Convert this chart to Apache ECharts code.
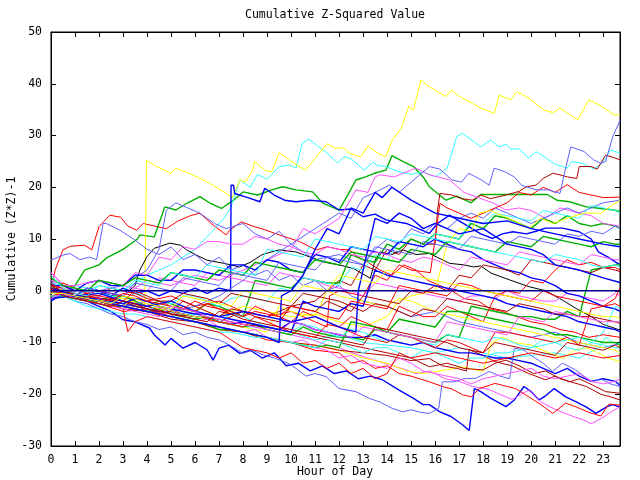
<!DOCTYPE html>
<html><head><meta charset="utf-8">
<script src="https://cdn.jsdelivr.net/npm/echarts@6/dist/echarts.min.js"></script>
<style>html,body{margin:0;padding:0;background:#fff}#c{width:640px;height:480px}</style>
</head><body><div id="c"></div>
<script>
const titleText = 'Cumulative Z-Squared Value';
const xName = 'Hour of Day';
const yName = 'Cumulative (Z*Z)-1';
const xMin = 0, xMax = 23.7, yMin = -30, yMax = 50;

// half-hour sample times used by the gridded series below
const H = [0,0.5,1,1.5, 2,2.5,3,3.5, 4,4.5,5,5.5, 6,6.5,7,7.5, 8,8.5,9,9.5, 10,10.5,11,11.5, 12,12.5,13,13.5, 14,14.5,15,15.5, 16,16.5,17,17.5, 18,18.5,19,19.5, 20,20.5,21,21.5, 22,22.5,23,23.5, 23.7];

// series given as [hour, cumulative value]
const yellowTop = [[0,0],[1,-1],[2,-1.5],[3,-2.5],[3.9,-3],[3.98,25.2],[4.4,24],[5,22.7],[5.2,23.7],[5.9,22.4],[6.6,20.8],[7.2,19.1],[7.55,18],[7.86,21.4],[8.1,21],[8.4,23.3],[8.48,25],[8.9,23.3],[9.2,23],[9.5,26.7],[10,25],[10.6,23.3],[11.5,28.4],[11.8,27.6],[12.2,27.6],[12.4,26.6],[12.9,25.9],[13.2,28],[13.6,26.6],[13.95,25.9],[14.2,29],[14.6,31.5],[14.9,35.6],[15.1,35],[15.4,40.7],[15.76,39.4],[16.45,37.5],[16.66,38.8],[17,37.6],[17.9,35.3],[18.46,34.3],[18.67,37.8],[19.15,36.9],[19.4,38.5],[19.9,37.2],[20.54,34.9],[20.9,34.4],[21.2,35.3],[21.93,33],[22.4,36.9],[22.83,35.9],[23.45,34],[23.7,34]];
const cyanTop = [[0,0.5],[1,-1],[2,1],[3,0],[4,3],[5,5],[6,8],[6.7,11.4],[7.2,14],[7.5,16.2],[7.86,21.4],[8.3,20],[8.6,22.5],[9,21.5],[9.5,24],[9.94,24.3],[10.2,23.7],[10.47,28.5],[10.73,29.3],[11.05,28.2],[11.5,26.6],[11.94,24.7],[12.22,25.9],[12.5,25.5],[13.05,23.3],[13.4,24.8],[13.6,24.2],[13.95,24],[14.5,23],[15,22.5],[15.5,23],[16,22],[16.5,23.7],[16.9,29.8],[17.14,30.4],[17.9,27.8],[18.3,29.1],[18.67,27.8],[18.95,28.3],[19.15,27.4],[19.5,27.4],[19.9,25.6],[20.2,26.9],[20.54,25.9],[20.96,24.5],[21.5,23.7],[21.7,25],[22.2,24.5],[22.6,23.5],[22.95,24.6],[23.3,27.2],[23.7,26.6]];
const lightBlueTop = [[0,-1],[1,-1],[2,-2],[3,-3],[4,-2],[5,-4],[6,-3],[7,-1],[8,2],[9,6],[10,9],[11,12],[12,15],[12.5,14],[13,18],[13.4,18.8],[14.1,20.4],[14.5,19],[15,21],[15.76,24],[16.2,23.5],[16.7,21.4],[17.1,21],[17.4,22.7],[17.9,21.5],[18.25,20.4],[18.46,23.7],[18.9,23],[19.3,22],[19.6,20.4],[20.2,19.5],[20.7,19.5],[21.2,18.8],[21.45,24],[21.65,27.8],[22.2,26.9],[22.6,25.3],[22.9,24.6],[23.1,25],[23.4,29.8],[23.7,32.9]];
const darkRedTop = [[0,1],[1,-1],[2,-2],[3,-1],[4,-3],[5,-4],[6,-5],[7,-6],[8,-4],[9,-5],[10,-3],[11,-2],[12,2],[12.5,1],[13,5],[13.5,4],[14,8],[14.5,7],[15,10],[15.5,9],[16,9],[16.1,15.6],[16.2,18.8],[16.7,18.5],[17.1,17.8],[17.55,17.5],[17.9,18.5],[18.3,17.8],[18.95,18.5],[19.5,19.2],[19.8,20.1],[20.2,20.4],[20.5,21.7],[20.9,22.7],[21.2,22.4],[21.5,22],[21.9,21.7],[22,24],[22.5,24],[22.75,23.5],[23.1,26.2],[23.4,25.8],[23.7,25.3]];
const greenTop = [[0,0],[0.5,-1],[1,1],[1.4,4],[2,5],[2.3,6.3],[3,8],[3.6,10],[3.7,10.8],[4.3,10.4],[4.74,16.2],[5.2,15.6],[5.7,17],[6.2,18.2],[6.6,17],[7.1,15.9],[7.6,17.5],[8,19.1],[8.6,18.5],[9.2,19.5],[9.65,20.1],[10.2,19.5],[10.9,19.1],[11.3,17],[12,15.6],[12.3,18],[12.7,21.4],[13.1,22],[13.47,22.7],[13.95,23.3],[14.2,26.1],[14.65,25],[15.1,24],[15.5,22],[15.76,20.1],[16.45,17.5],[16.9,18.3],[17.5,17],[17.9,18.6],[20.67,18.6],[21.07,17.5],[21.6,17.2],[22.3,16.2],[22.9,15.9],[23.45,15.6],[23.7,15.3]];
const redEarly = [[0,0],[0.17,4],[0.5,7.9],[0.8,8.6],[1.4,8.8],[1.7,7.9],[2,12.4],[2.45,14.6],[2.9,14.2],[3.2,12.5],[3.56,11.7],[3.84,13],[4.3,12.5],[4.8,12],[5.3,13.5],[5.8,14.5],[6.2,15],[6.75,12.7],[7.3,10.8],[7.44,11.7],[7.93,13.3],[8.4,12.5],[8.9,11.8],[9.5,10.8],[10.35,9.5],[11.05,7.9],[11.5,8.5],[12,8],[12.43,7.9],[12.8,6.5],[13.2,5.5],[13.7,4],[14.2,3],[14.7,5],[15.2,4],[15.7,2],[16.2,1],[16.7,0],[17.2,-1.5],[17.8,-2],[18.3,-3.5],[18.8,-4],[19.4,-5],[20,-6],[20.6,-6.5],[21.2,-7.5],[21.8,-8],[22.4,-9],[23,-8.5],[23.7,-9]];
const lightBlueHigh = [[0,5.9],[0.5,6.9],[0.8,7.2],[1.2,6],[1.6,6.5],[1.9,6],[2.17,13],[2.3,13],[2.87,11.7],[3.5,9.8],[4,8],[4.5,7],[5,8.5],[5.5,6],[6,7],[6.5,5],[7,6.5],[7.5,4],[8,5],[8.5,3],[9,4],[9.5,2],[10,3],[10.5,1],[11,2],[11.5,0],[12,1],[12.5,-1],[13,-2],[14,-3],[15,-5],[16,-4],[17,-6],[18,-7],[19,-8],[20,-9],[21,-8],[22,-10],[23,-11],[23.7,-10.2]];
const lightBlueMid = [[0,1.5],[1,-1],[2,0],[3,1],[4,4],[4.5,8],[4.8,15.5],[5.2,17],[5.7,16],[6.2,15],[6.8,13],[7.3,12],[8,13],[8.5,11],[9,10],[9.5,11.5],[10,9],[11,6],[12,7],[13,5],[13.5,8],[14,10],[14.5,9],[15,12],[15.5,11],[16,13],[16.5,12],[17,14],[17.5,15],[18,14],[18.5,16],[19,15],[19.5,14],[20,13],[20.5,14],[21,15],[21.5,16],[22,15],[22.5,16],[23,17],[23.7,17.5]];
const blueLow = [[0,-0.5],[0.5,-0.5],[1,-1.5],[1.5,-2],[2,-3],[2.5,-4],[3,-5.6],[3.5,-6],[4.1,-7.2],[4.3,-8.5],[4.75,-10.5],[5,-9.2],[5.5,-11.1],[6,-10],[6.5,-11.4],[6.75,-13.4],[7,-11.1],[7.4,-10.5],[7.86,-12.1],[8.3,-11.5],[8.8,-13],[9.3,-12],[9.8,-14.5],[10.3,-14],[10.8,-15.5],[11.3,-14.5],[11.8,-16],[12.3,-15.5],[12.8,-17],[13.3,-16.5],[13.8,-17.2],[14.5,-19.2],[15.1,-20.8],[15.5,-22],[15.76,-22],[16.2,-23.4],[16.66,-24.3],[17.14,-25.9],[17.42,-27],[17.63,-18.9],[17.9,-19.5],[18.33,-20.8],[18.95,-22.4],[19.3,-21.1],[19.7,-18.5],[20,-19.5],[20.33,-21.1],[20.6,-20.3],[20.96,-18.9],[21.44,-20.5],[21.9,-21.5],[22.3,-22.5],[22.7,-23.7],[23.16,-22.4],[23.4,-22],[23.7,-22.5]];
const lightBlueLow = [[0,0],[0.5,-1],[1,-2],[1.5,-2.5],[2,-3.5],[2.5,-4.5],[3,-5],[3.5,-6],[4,-6.5],[4.5,-7.5],[5,-7],[5.5,-8.5],[6,-8],[6.5,-9],[7,-9.5],[7.44,-10.5],[8,-12.1],[8.4,-11.5],[8.84,-12.4],[9.3,-13],[9.87,-14],[10.2,-15],[10.63,-16.5],[11,-16],[11.46,-16.6],[12,-18.9],[12.7,-19.5],[13.26,-20.8],[13.7,-21.5],[14.2,-22.7],[14.65,-23.4],[15,-23],[15.4,-23.5],[15.76,-23.7],[16.15,-22.7],[16.3,-17.6],[16.8,-17.6],[17.2,-17],[17.7,-16.9],[18.25,-15.6],[18.7,-16.5],[19.1,-17],[19.3,-11.1],[19.7,-11.5],[20,-12.5],[20.5,-14],[20.9,-15.6],[21.3,-14],[21.85,-15.3],[22.2,-16.5],[22.55,-17.6],[22.9,-17],[23.3,-18],[23.7,-18.5]];
const magentaLow = [[0,1],[1,-1.5],[2,-2],[3,-3],[4,-2.5],[5,-4],[6,-5],[7,-6],[8,-6.5],[9,-7.5],[10,-8.5],[10.9,-9.5],[11.5,-10.5],[12,-11],[12.6,-12.1],[13.2,-13],[14.1,-14.3],[14.6,-15],[15.2,-16],[15.8,-15.5],[16.4,-17],[17,-17.5],[17.55,-18.5],[18.2,-19],[18.74,-20.1],[19.2,-21],[19.9,-19.2],[20.4,-21.5],[21.03,-23],[21.7,-24.2],[22.2,-25],[22.5,-25.7],[22.95,-24.6],[23.3,-23.5],[23.7,-22.4]];
const redLow = [[0,0.5],[1,-1],[2,-2.5],[3,-4],[4,-3.5],[5,-5],[6,-6],[7,-7],[8,-8],[9,-9.5],[10,-10],[11,-11.5],[12,-12],[12.5,-14],[13,-13.5],[13.5,-15],[14,-14.5],[14.5,-16],[15,-16.5],[15.76,-17.6],[16.3,-18.5],[16.7,-19],[17.14,-20.1],[17.5,-20.5],[17.84,-18.9],[18.5,-17.9],[19,-18.5],[19.35,-18.9],[19.9,-20.5],[20.4,-22],[20.9,-23.7],[21.44,-21.7],[21.9,-22.5],[22.4,-23.5],[22.9,-24.2],[23.24,-21.9],[23.7,-22.1]];
const darkRedLowA = [[0,-1],[1,-1],[2,-2],[3,-3.5],[4,-4],[5,-5.5],[6,-6],[7,-7.5],[8,-8],[9,-9],[10,-10],[11,-10.5],[12,-11.5],[13,-12],[14,-12.5],[15,-13.5],[15.76,-13.1],[16.3,-14.5],[16.9,-15],[17.3,-15.5],[17.42,-11.4],[18,-12.5],[18.5,-13.7],[19.2,-14.5],[19.9,-16],[20.6,-17.2],[21,-16.5],[21.6,-17.6],[22,-17],[22.55,-18.2],[23.1,-19.5],[23.7,-19.8]];
const darkRedLowB = [[0,0],[1,-0.5],[2,-1.5],[3,-2],[4,-3],[5,-4.5],[6,-5],[7,-5.5],[8,-6.5],[9,-7],[10,-8],[11,-9],[12,-10],[13,-11],[14,-12],[15,-13],[15.76,-14.7],[16.5,-14],[17.2,-15],[18,-15.3],[18.5,-14],[18.95,-13.4],[19.5,-14.5],[20.1,-16],[20.6,-15.5],[21.2,-17],[21.8,-17.8],[22.3,-18.5],[22.9,-20],[23.3,-20.5],[23.7,-21.1]];
const yellowLow = [[0,-1.5],[1,-1],[2,-2],[3,-3],[4,-4],[5,-5],[6,-6],[7,-7.5],[8,-8],[9,-9],[10,-10],[11,-10.5],[12,-11.5],[13,-13],[14,-14],[14.8,-15.5],[15.5,-16],[16.2,-15.5],[16.8,-15],[17.14,-14.7],[18,-15.6],[18.33,-10.2],[18.8,-9],[19.3,-10],[20,-10.5],[20.5,-11.5],[21.3,-13.1],[21.8,-11.5],[22.3,-11],[22.83,-12.1],[23.2,-13],[23.7,-13.7]];
const cyanLow = [[0,-1],[1,-1],[1.5,-2],[2,-1.5],[3,-3],[4,-4],[5,-5],[6,-4.5],[7,-6],[8,-7],[9,-7],[10,-8],[11,-9.5],[12,-8.5],[13,-10],[14,-10.5],[15,-11],[16,-12],[17,-11],[18,-12],[19,-13],[20,-12.5],[21,-12],[22,-13],[22.8,-11],[23.1,-9],[23.4,-10],[23.7,-10.2]];
const blackMid = [[0,0],[0.5,-1],[1,-1.5],[1.5,-1],[2,-2],[2.5,-2],[3,-1],[3.5,1],[3.7,4],[4,6.6],[4.3,8.2],[4.95,9.2],[5.4,8.8],[5.65,7.9],[6.05,6.9],[6.5,5.9],[7.2,5.3],[7.86,4.6],[8.3,5.5],[8.8,7],[9.5,7.9],[10.2,7.5],[10.8,6.5],[11.4,5.5],[12,5],[12.6,4.3],[13.3,2.4],[13.5,5.9],[13.7,7.5],[14.2,7],[14.65,7.9],[15.2,7],[15.76,7.2],[16.6,5.3],[17.2,5],[17.6,4.6],[17.9,4.8],[18.33,3.4],[19.1,2.1],[19.9,0.8],[20.6,0],[21.3,-1.8],[21.9,-3.5],[22.5,-5],[23,-6.5],[23.7,-7.6]];
const blueJump = [[0,0],[0.5,-0.5],[1,-1],[1.5,0.5],[2,0],[2.5,-1],[3,0.5],[3.5,-0.5],[4,0],[4.5,-1],[5,0],[5.5,-0.5],[6,0.5],[6.5,-0.5],[7,0.5],[7.48,0],[7.5,20.4],[7.6,20.4],[7.65,18.8],[8.2,18],[8.7,17.2],[8.9,19.8],[9.3,18.5],[9.73,17.5],[10.2,17.2],[10.8,17.5],[11.46,17.2],[12,15.6],[12.5,15.8],[13,14.3],[13.5,14.8],[13.95,13.7],[14.8,13],[15.3,12],[15.76,11.1],[16.1,13],[16.6,14.6],[17,13.5],[17.4,12.4],[17.9,11],[18.4,10.1],[18.8,11],[19.24,11.4],[19.8,11],[20.2,11.5],[20.6,12.1],[21.3,12.1],[22,11.4],[22.5,10],[22.8,7.5],[23.2,6.5],[23.7,5]];
const redRise = [[0,-0.5],[1,-1],[2,0],[3,-1],[4,-2],[5,-1],[6,-3],[7,-2],[8,-4],[9,-5],[10,-4],[11,-6],[11.5,-7],[11.6,-1],[12,0],[13,-1],[13.5,3],[14,2],[14.5,5],[15,4],[15.8,3.5],[16,10],[16.2,16.9],[16.5,16],[17,15],[17.5,14],[18,15],[18.5,16],[19,17],[19.5,19],[20,18.5],[20.5,20],[21,19],[21.5,20.5],[22,19],[22.5,18.5],[23,18],[23.7,18.1]];
const yellowRise = [[0,1],[1,-1],[2,-2],[3,-1.5],[4,-3],[5,-4],[6,-3],[7,-5],[8,-3],[9,-4],[10,-5],[11,-4.5],[12,-6],[13,-7],[14,-5],[14.5,-2],[15,-1],[16,0],[16.5,9],[17,12],[17.5,11.5],[17.84,15],[18.3,15.5],[18.8,14.5],[19.3,13.5],[19.9,12.1],[20.4,14],[20.9,13],[21.5,14],[22.2,15],[22.9,15],[23.5,16.9],[23.7,17.5]];
const magentaHigh = [[0,3.5],[1,-1],[2,0],[3,-1],[4,2],[5,1],[6,3],[7,2],[8,4],[9,6],[10,8],[10.5,12],[11,11],[11.5,12.5],[12,14],[12.4,17],[12.7,19.5],[13.2,19],[13.5,22],[13.7,22.4],[14.3,22],[15.2,23.7],[15.7,22.5],[16.6,21.4],[17.2,19],[17.84,17.9],[18.4,17],[18.95,15.6],[19.5,16],[20,15.5],[20.6,14],[21.2,16],[22,15],[22.5,14.5],[23,13],[23.7,12.5]];
const redSlide = [[0,0],[1,-1],[2,-2],[3,-3.5],[3.2,-7.9],[3.5,-6],[4,-5],[5,-6],[6,-7],[7,-8],[7.5,-9.5],[8,-11],[9,-12],[9.5,-13],[10,-12],[10.5,-14],[11,-13.5],[11.5,-15],[12,-14],[12.5,-16],[13,-15],[13.5,-17],[14,-16],[14.5,-12],[15,-13],[16,-12],[17,-13],[18,-14],[19,-13],[20,-12],[21,-13],[22,-12],[23,-13],[23.7,-12.5]];
const blueSurge = [[0,0.5],[1,-1],[2,-2],[3,-3],[4,-4],[5,-5],[6,-6],[7,-7],[8,-8],[9,-9],[9.5,-10],[9.6,-1],[10,0],[10.5,3],[11,8],[11.5,12],[12,11],[12.5,16],[13,15],[13.5,19],[13.8,18],[14.2,20],[15,17.5],[16,15],[17,14],[18,13],[19,13.5],[20,12],[21,11],[22,10],[23,9],[23.7,8.5]];
const blueLate = [[0,-1.5],[1,-1],[2,-0.5],[3,-2],[4,-3],[5,-2],[6,-4],[7,-5],[8,-4],[9,-5],[10,-6],[11,-5],[12,-7],[12.7,-8],[12.8,0],[13,4],[13.3,10],[13.5,14],[14,13],[14.5,15],[15,14],[15.5,12],[16,13],[17,11],[18,12],[19,9],[20,8],[20.5,7],[21,5],[22,4],[23,2.5],[23.7,1.6]];

// series given as values at the half-hour times H
const redMid = [-0.5,1.5,0.5,-0.5, -1,-1.5,-2,0, -1,-2,-3,-3.5, -4,-2.5,-3.5,-4.5, -5,-3,-4,-5, -6,-4,-5,-6, -7,-5,-6,-7, -7.5,-3,-4,-5, -5,-3,-4,-5, -6,-1,0,-0.5, 2,1.5,4,6, 5,5.5,4.5,4.5, 4];
const darkRedMid = [1.5,-0.5,-1,-2, -2.5,-1.5,-2,-3, -3.5,-4.5,-4,-2, -3,-4,-5,-3.5, -4,-5,-5.5,-6, -3,-3.5,-4,-2, -3,-4,-1,-1.5, -2,-2.5,0,-0.5, 1,0,3,2.5, 5,4.5,4,3, 6,5.5,5,4.5, 4,3.5,4.5,4, 3.7];
const blueArc = [1,1,0,1.5, 2,1,1,3, 3,2,2,4, 4,3.5,3,5, 5,4,6,5.5, 4,3.5,7,6.5, 5.5,8.5,8,7.5, 7,9.5,9,8.5, 10,9,8,7.5, 6,5,4,3.5, 2.5,2,1,-0.5, -1,-2,-3,-3.5, -4];
const redRecover = [-1,-0.5,-1,-1.5, -2,-2.5,-3,-3.5, -4,-4.5,-5,-3, -4,-5.5,-6,-6.5, -7,-5,-6,-7, -8,-8.5,-9,-6.5, -7,-8,-9,-9.5, -10,-8.5,-9,-10, -11,-9.5,-10,-11, -12,-8,-8,-8.5, -9,-9.5,-10,-9, -10.5,-3.5,-3,-1.5, 0.5];
const magentaFlat = [2,1,-0.5,-1, -1.5,1.5,1,0.5, 0,2.5,2,1.5, 1,3.5,3,2.5, 2,1.5,1,3.5, 3,2.5,2,1, 0.5,0,-1,1.5, 1,0.5,0,-0.5, -1,-1.5,-2,-1, -1,-1.5,0,-1, -1.5,-2,-2,-0.5, -1,-1.5,-2,-0.5, -1];
const cyanLate = [-0.5,-0.5,-1,-1.5, -2,-2.5,-3,-3.5, -4,-2.5,-3,-4, -5,-5.5,-6,-4.5, -5,-6,-7,-7.5, -8,-6.5,-7,-8, -9,-7.5,-8,-9, -10,-8.5,-9,-10, -10.5,-8.5,-9,-9.5, -10,-9,-9.5,-10.5, -11,-9.5,-10,-11, -11.5,-10,-8,-3, -3.4];
const darkRedFlat = [1,-0.5,-0.5,-1, -1,0.5,0,-0.5, -1.5,-2,-2,-0.5, -1,-1.5,-2.5,-0.5, -1,-1.5,-2,-2.5, -3,-0.5,-1,-1.5, -2,-3,-4,-2.5, -3,-4,-5,-3.5, -4,-1.5,-2,-2.5, -3,-3.5,-4,-2.5, -3,-3.5,-4.5,-4.5, -5,-5,-5.5,-6, -6.3];
const blueSlide = [0.5,-0.5,-1,-1.5, -1.5,-2,-2.5,-3, -3.5,-4,-4,-4.5, -5,-5.5,-6,-6.5, -6,-6.5,-7,-7.5, -6,-6.5,-7.5,-8, -8.5,-9,-9,-8.5, -9.5,-10,-10.5,-10, -11,-11.5,-12,-12, -12.5,-13,-13,-13.5, -14,-15,-16,-15, -16.5,-17.5,-17,-17.5, -18.3];
const cyanMid = [1.5,1,1,0.5, -0.5,-1,-1.5,-0.5, -1,-2,-2.5,-1, -1,-2,-3,-1.5, -1,-1.5,-2,0.5, 0,2.5,2,1.5, 1,4.5,4,7, 6,9.5,9,8.5, 11,10.5,10,13.5, 13,15,14.5,14, 13.5,15.5,15,14.5, 14,16.5,16,15.5, 15];
const greenMid = [1,-0.5,-1,-1.5, -2,-1,-1,-2, -3,-2,-2.5,-3.5, -4,-2.5,-3,-4, -5,2,1.5,1, 0.5,2.5,2,1.5, 1.5,7,6,5.5, 9,8,10,9, 11,10.5,10,13, 12,14.5,14,13, 12,14,13,14.5, 13,12.5,13,12.5, 12.1];
const greenLate = [-1,-1,-1.5,-2, -2,-2.5,-3,-3.5, -4,-3.5,-4.5,-5, -5.5,-5,-6,-6.5, -7,-6.5,-7.5,-8, -8.5,-7,-8,-8.5, -9,-9,-9.5,-7.5, -8,-8.5,-9,-9.5, -10,-8.5,-9,-3, -3.5,-4,-4.5,-5, -5,-5.5,-5.5,-4, -5,4,4.5,5, 5];
const blueStep = [-2,-0.5,-1,-1.5, -1.5,-2,-2.5,-1.5, -2,-3,-3.5,-4, -4.5,-4.5,-5,-5.5, -6,-6.5,-7,-7.5, -8,-2,-3,-3.5, -4,-2.5,-3,4, 3,2.5,2,1.5, 1,0.5,0,-0.5, -1,-1.5,-2.5,-3, -3.5,-4,-4.5,-5, -6,-6.5,-7,-7.5, -7.9];
const magentaMid = [3.5,1,1,1.5, 2,1.5,1,3.5, 3,6.5,6,8.5, 8,9.5,9.5,9, 9,10.5,10,9, 8.5,7.5,7,8.5, 8,7,6.5,7.5, 7,6,5.5,6.5, 6,5,4,6.5, 6,5.5,5,7.5, 7,6.5,6,5.5, 5,7,6.5,6, 6];
const cyanSlide = [-1,-1,-2,-3, -3.5,-4,-4.5,-4.5, -5,-5.5,-6,-6.5, -7,-7.5,-8,-8, -8.5,-9,-9,-9.5, -10,-10.5,-11,-9.5, -10,-11,-12,-11, -11,-12,-13,-11.5, -12,-13,-14,-13, -13,-12,-12,-11.5, -11,-10.5,-10,-9.5, -9,-10,-10.5,-11, -11];
const yellowMid = [0.5,-0.5,-1,-1.5, -2,-2.5,-3,-1.5, -2,-3,-4,-4.5, -5,-5.5,-6,-6.5, -7,-7.5,-8,-3, -4,-4.5,-5,0, -1,-1.5,-2,-2.5, -3,-1.5,-2,-3, -4,-4.5,-5,-5.5, -6,-6.5,-7,-7.5, -8,-8.5,-9,-9.5, -10,-10.5,-11,-11.5, -12];
const lightBlueRise = [2,-0.5,-1,0.5, 0,-0.5,-1,1.5, 1,0.5,0,2.5, 2,1.5,1,3.5, 3,2.5,2,5.5, 5,4.5,4,6.5, 6,5.5,5,8.5, 8,7.5,7,9.5, 9,8.5,8,10.5, 10,9.5,9,10.5, 10,9.5,9,11, 10.5,11.5,11,12.5, 12];
const greenLow = [-1.5,-1,-1.5,-2, -2.5,-3,-3,-3.5, -4,-4.5,-5,-5.5, -6,-6.5,-7.5,-7.5, -8,-8.5,-9,-9.5, -10,-10.5,-11,-10.5, -11,-6,-6.5,-7, -8,-5.5,-6,-6.5, -7,-4,-4,-4.5, -5,-5.5,-6,-6.5, -7,-7.5,-8.5,-8.5, -9,-9.5,-10,-10, -10.5];
const greenRise = [2.5,1,0.5,0, 2,1.5,1,2.5, 2,1.5,3.5,3, 2.5,2,4,3.5, 3,5.5,5,4.5, 4,3.5,6,5.5, 5,7.5,7,6.5, 6,5.5,8,7.5, 7,9.5,9,8.5, 8,7.5,9.5,9, 8.5,10.5,10,9.5, 9,8.5,9.5,9, 9];
const magentaSlide = [0.5,-0.5,-1,-1.5, -2,-2.5,-3,-3.5, -4,-4.5,-5,-5.5, -6,-5.5,-7,-7.5, -8,-7.5,-9,-9.5, -10,-9.5,-11,-11.5, -13,-12.5,-14,-14.5, -15,-13,-14,-15.5, -16,-16.5,-17,-18, -17,-16.5,-16,-15.5, -15,-16.5,-17,-16.5, -16,-17.5,-18,-17.5, -17];
const redExtra = [1,0.5,-0.5,-1, -1.5,-2,-0.5,-1, -2,-2.5,-3,-3.5, -2,-3,-3.5,-4, -5,-4,-4.5,-5, -3,-3.5,-4,-5, -5.5,-2,-2.5,-3, -3.5,1,0.5,0, -0.5,-1,1.5,1, 0,-0.5,-1,-1.5, -2,0,-1,-1.5, -2,-2.5,-3,-2.5, -3];
const magentaExtra = [-1.5,-0.5,-1.5,-2, -2.5,-3,-3.5,-4, -4.5,-5,-3,-3.5, -4,-5,-5.5,-6, -6.5,-7,-7.5,-8, -6,-6.5,-7.5,-8, -8.5,-9,-7,-7.5, -8,-8.5,-9,-9.5, -10,-6,-6.5,-7, -7.5,-8,-8.5,-5, -5.5,-6,-4,-4.5, -5,-5.5,-6,-6, -6];
const darkRedExtra = [0.5,-1,-1.5,-2, -2.5,-3,-2,-2.5, -3.5,-4,-4.5,-5, -5.5,-6,-4,-4.5, -5.5,-6,-6.5,-7, -7.5,-8,-8.5,-9, -9.5,-10,-10.5,-7, -7.5,-8,-8.5,-9, -9.5,-10,-11,-11.5, -12,-10,-10.5,-11, -11.5,-12,-12.5,-10, -10.5,-11,-11.5,-10.5, -11];
const cyanExtra = [3,0.5,-0.5,-1, 1,0.5,0,2, 1.5,1,3.5,3, 2.5,5,4.5,4, 3.5,3,8,7.5, 7,6.5,10,9.5, 9,8.5,8,10.5, 10,9.5,11,10.5, 10,9.5,9,8.5, 8,7.5,7,6.5, 6,5.5,7,6.5, 6,5,4.5,5, 4.5];
const yellowExtra = [-0.5,-0.5,-1,-1.5, -2,-2.5,-1,-1.5, -2.5,-3,-3.5,-1, -1.5,-2,-2.5,-3, 0,-0.5,-1,-1.5, -2,1,0.5,0, 3,2.5,2,1.5, 4,3.5,3,2.5, 2,1.5,1,0.5, 0,-0.5,-1,-1.5, -2,-2.5,-3,-3.5, -4,-4.5,-5,-5, -5.5];
const zeroLine = [[0,0],[23.7,0]];

const RED='#ff0000', GREEN='#00b000', BLUE='#0000ff', LBLUE='#6060ff', MAG='#ff50ff', CYAN='#30ffff', YEL='#ffff00', BLACK='#000000', DRED='#b00000', NAVY='#000090';
const onH = vals => H.map((h, i) => [h, vals[i]]);
const lines = [
  [redEarly,RED],[greenTop,GREEN],[blueLow,BLUE],[magentaLow,MAG],[cyanTop,CYAN],[yellowTop,YEL],[blackMid,BLACK],[darkRedTop,DRED],[lightBlueHigh,LBLUE],
  [redLow,RED],[onH(greenMid),GREEN],[blueJump,BLUE],[magentaHigh,MAG],[cyanLow,CYAN],[yellowLow,YEL],[darkRedLowA,DRED],[lightBlueMid,LBLUE],
  [redRise,RED],[onH(greenLate),GREEN],[onH(blueSlide),BLUE],[onH(magentaFlat),MAG],[onH(cyanMid),CYAN],[yellowRise,YEL],[darkRedLowB,DRED],[lightBlueTop,LBLUE],
  [onH(redMid),RED],[onH(greenLow),GREEN],[onH(blueArc),BLUE],[onH(magentaMid),MAG],[onH(cyanLate),CYAN],[onH(yellowMid),YEL],[onH(darkRedMid),DRED],[lightBlueLow,LBLUE],
  [onH(redRecover),RED],[onH(greenRise),GREEN],[onH(blueStep),BLUE],[onH(magentaSlide),MAG],[onH(cyanSlide),CYAN],[onH(darkRedFlat),DRED],[onH(lightBlueRise),LBLUE],
  [redSlide,RED],[blueSurge,BLUE],[blueLate,BLUE],[onH(redExtra),RED],[onH(magentaExtra),MAG],[onH(darkRedExtra),DRED],[onH(cyanExtra),CYAN],[onH(yellowExtra),YEL]
];

const FONT = '"DejaVu Sans Mono", "Liberation Mono", monospace';
const chart = echarts.init(document.getElementById('c'), null, {renderer:'canvas'});
const widthOf = c => (c === BLUE || c === GREEN) ? 1.4 : 1;
const series = lines.map(([d,c]) => ({type:'line', data:d, showSymbol:false, symbol:'none', silent:true, animation:false,
  lineStyle:{color:c, width:widthOf(c)}, itemStyle:{color:c}, z:2}));
series.push({type:'line', data:zeroLine, showSymbol:false, symbol:'none', silent:true, animation:false, lineStyle:{color:NAVY, width:1.5}, z:3});

const tickIn = {show:true, inside:true, length:5, lineStyle:{color:'#000'}};
const lineBlack = {show:true, onZero:false, lineStyle:{color:'#000'}};
const labelFmt = v => Number.isInteger(v) ? String(v) : '';
chart.setOption({
  animation:false,
  backgroundColor:'#fff',
  grid:{left:51, right:20, top:32, bottom:34, show:true, borderColor:'#000', borderWidth:1, backgroundColor:'transparent'},
  xAxis:[
    {type:'value', min:xMin, max:xMax, interval:1, position:'bottom', axisLine:lineBlack, axisTick:tickIn,
     axisLabel:{formatter:labelFmt, color:'#000', fontFamily:FONT, fontSize:11.5, margin:8}, splitLine:{show:false}},
    {type:'value', min:xMin, max:xMax, interval:1, position:'top', axisLine:lineBlack, axisTick:tickIn,
     axisLabel:{show:false}, splitLine:{show:false}}
  ],
  yAxis:[
    {type:'value', min:yMin, max:yMax, interval:10, position:'left', axisLine:lineBlack, axisTick:tickIn,
     axisLabel:{color:'#000', fontFamily:FONT, fontSize:11.5, margin:9}, splitLine:{show:false}},
    {type:'value', min:yMin, max:yMax, interval:10, position:'right', axisLine:lineBlack, axisTick:tickIn,
     axisLabel:{show:false}, splitLine:{show:false}}
  ],
  graphic:[
    {type:'text', x:335, y:15, style:{text:titleText, font:'11.5px '+FONT, fill:'#000', align:'center', verticalAlign:'middle', textAlign:'center', textVerticalAlign:'middle'}},
    {type:'text', x:335, y:472, style:{text:xName, font:'11.5px '+FONT, fill:'#000', align:'center', verticalAlign:'middle', textAlign:'center', textVerticalAlign:'middle'}},
    {type:'text', x:12, y:239, rotation:Math.PI/2, style:{text:yName, font:'11.5px '+FONT, fill:'#000', align:'center', verticalAlign:'middle', textAlign:'center', textVerticalAlign:'middle'}}
  ],
  series
});
</script></body></html>
